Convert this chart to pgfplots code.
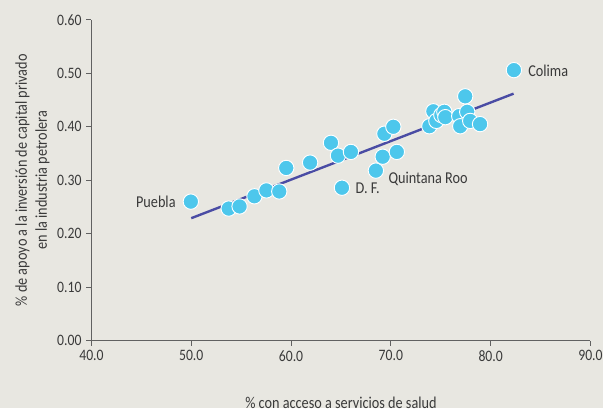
\documentclass[border=0pt]{standalone}
\usepackage{pgfplots}
\pgfplotsset{compat=1.18}
\usepackage{fontspec}
\setmainfont[FakeStretch=0.86]{Carlito}
\usetikzlibrary{backgrounds}
\definecolor{bg}{HTML}{E8E7E1}
\definecolor{dot}{HTML}{4DC7EC}
\definecolor{fit}{HTML}{4A4CA4}
\definecolor{txt}{HTML}{3A3A3A}
\begin{document}
\begin{tikzpicture}
\begin{axis}[
    scale only axis,
    width=376.5pt, height=242pt,
    xmin=40, xmax=90, ymin=0, ymax=0.6,
    xtick={40,50,...,90},
    ytick={0,0.1,...,0.6},
    axis lines=left,
    axis line style={-, draw=txt!80, line width=0.8pt},
    tick style={draw=txt!80, line width=0.8pt},
    tick align=outside,
    major tick length=4pt,
    x tick label style={/pgf/number format/.cd, fixed, fixed zerofill, precision=1},
    y tick label style={/pgf/number format/.cd, fixed, fixed zerofill, precision=2},
    /pgf/number format/assume math mode=true,
    ticklabel style={font=\fontsize{12}{14}\selectfont, text=txt},
    xlabel={\% con acceso a servicios de salud},
    ylabel={\% de apoyo a la inversión de capital privado\\en la industria petrolera},
    label style={font=\fontsize{12.5}{15}\selectfont, text=txt, align=center},
    xlabel style={yshift=-20pt},
    ylabel style={yshift=-1pt},
    clip=false,
]
% recta de ajuste
\addplot[fit, line width=1.8pt] coordinates {(50,0.229) (82.3,0.462)};
% entidades
\addplot[only marks, mark=*, mark size=5.8pt,
    mark options={fill=dot, draw=white, line width=0.7pt}]
coordinates {
(49.96,0.260) (53.75,0.247) (54.84,0.251) (56.33,0.270) (57.53,0.281)
(58.82,0.279) (59.52,0.323) (61.91,0.333) (64.00,0.370) (64.70,0.346)
(66.00,0.353) (65.10,0.286) (68.50,0.318) (69.18,0.344) (69.35,0.387)
(70.25,0.400) (70.60,0.353) (73.86,0.401) (74.26,0.429) (74.56,0.411)
(75.06,0.422) (75.36,0.428) (75.46,0.418) (76.85,0.420) (76.95,0.401)
(77.45,0.457) (77.65,0.428) (77.95,0.411) (78.94,0.405) (82.33,0.506)
};
\node[anchor=east, text=txt, font=\fontsize{12.5}{14}\selectfont] at (axis cs:48.9,0.260) {Puebla};
\node[anchor=west, text=txt, font=\fontsize{12.5}{14}\selectfont] at (axis cs:83.3,0.505) {Colima};
\node[anchor=west, text=txt, font=\fontsize{12.5}{14}\selectfont] at (axis cs:66.0,0.285) {D. F.};
\node[anchor=west, text=txt, font=\fontsize{12.5}{14}\selectfont] at (axis cs:69.3,0.302) {Quintana Roo};
\end{axis}
\begin{scope}[on background layer]
\fill[bg] ([xshift=-69pt,yshift=-51pt]current axis.south west) rectangle ([xshift=9.75pt,yshift=15pt]current axis.north east);
\end{scope}
\end{tikzpicture}
\end{document}
